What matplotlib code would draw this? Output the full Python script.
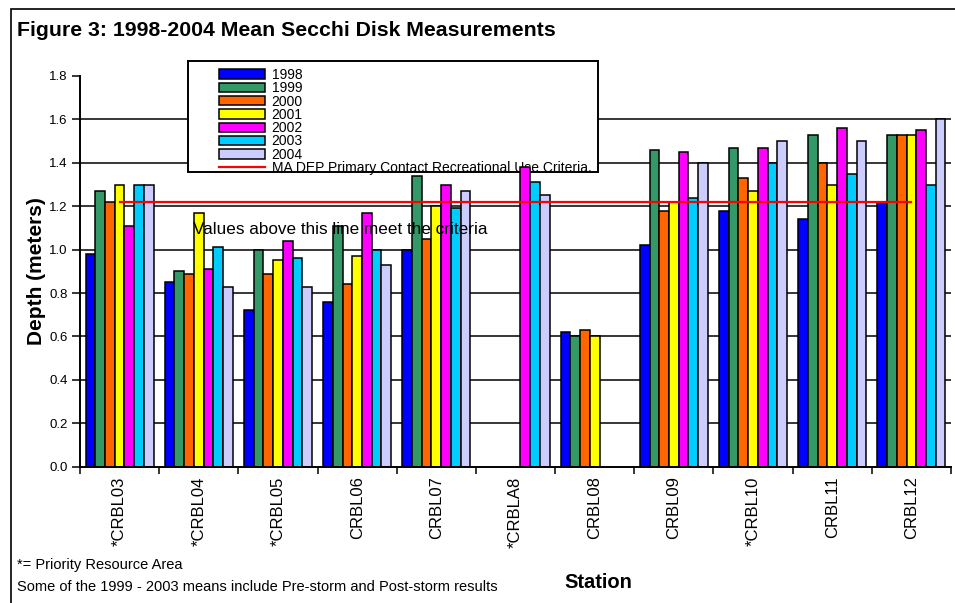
import matplotlib
matplotlib.use("Agg")
import matplotlib.pyplot as plt
import matplotlib.patches as mpatches
import numpy as np

plt.rcParams['font.family'] = ['Liberation Sans', 'DejaVu Sans']

stations = ["*CRBL03", "*CRBL04", "*CRBL05", "CRBL06", "CRBL07", "*CRBLA8",
            "CRBL08", "CRBL09", "*CRBL10", "CRBL11", "CRBL12"]
years = ["1998", "1999", "2000", "2001", "2002", "2003", "2004"]

# mean secchi depth (m), None = no data
d1998 = [0.98, 0.85, 0.72, 0.76, 1.00, None, 0.62, 1.02, 1.18, 1.14, 1.22]
d1999 = [1.27, 0.90, 1.00, 1.11, 1.34, None, 0.60, 1.46, 1.47, 1.53, 1.53]
d2000 = [1.22, 0.89, 0.89, 0.84, 1.05, None, 0.63, 1.18, 1.33, 1.40, 1.53]
d2001 = [1.30, 1.17, 0.95, 0.97, 1.20, None, 0.60, 1.22, 1.27, 1.30, 1.53]
d2002 = [1.11, 0.91, 1.04, 1.17, 1.30, 1.38, None, 1.45, 1.47, 1.56, 1.55]
d2003 = [1.30, 1.01, 0.96, 1.00, 1.19, 1.31, None, 1.24, 1.40, 1.35, 1.30]
d2004 = [1.30, 0.83, 0.83, 0.93, 1.27, 1.25, None, 1.40, 1.50, 1.50, 1.60]
criteria = [1.22] * len(stations)

series = [d1998, d1999, d2000, d2001, d2002, d2003, d2004]
colors = ["#0000FF", "#339966", "#FF6600", "#FFFF00", "#FF00FF", "#00CCFF", "#CCCCFF"]

fig = plt.figure(figsize=(9.55, 6.03), dpi=100)
ax = fig.add_axes([80/955, 1-466.7/603, 871/955, (466.7-76)/603])

x = np.arange(len(stations))
bw = 0.123
handles = []
for i, (vals, c) in enumerate(zip(series, colors)):
  v = np.array([np.nan if a is None else a for a in vals], dtype=float)
  ax.bar(x + (i - 3) * bw, v, width=bw, color=c, edgecolor="black", linewidth=1.1, zorder=2)
  handles.append(mpatches.Patch(facecolor=c, edgecolor="black", linewidth=1.1, label=years[i]))

line, = ax.plot(x, criteria, color="#FF0000", linewidth=1.6, zorder=3,
                label="MA DEP Primary Contact Recreational Use Criteria.")
handles.append(line)

ax.set_xlim(-0.5, len(stations) - 0.5)
ax.set_ylim(0, 1.8)
yt = np.arange(0, 1.81, 0.2)
ax.set_yticks(yt)
ax.set_yticklabels([f"{t:.1f}" for t in yt], fontsize=9.5)
for t in yt[1:-1]:
  ax.axhline(t, color="black", linewidth=1.1, zorder=0.5)

ax.set_xticks(np.arange(len(stations) + 1) - 0.5)
ax.set_xticklabels([])
ax.set_xticks(x, minor=True)
ax.set_xticklabels(stations, minor=True, rotation=90, fontsize=12)
ax.tick_params(axis="x", which="major", direction="out", length=5, width=1.1)
ax.tick_params(axis="x", which="minor", length=0, pad=7)
ax.tick_params(axis="y", direction="out", length=6, width=1.1, pad=3)

for s in ["top", "right"]:
  ax.spines[s].set_visible(False)
for s in ["left", "bottom"]:
  ax.spines[s].set_linewidth(1.4)

ax.set_ylabel("Depth (meters)", fontsize=15, fontweight="bold", labelpad=2)

ax.text(0.93, 1.093, "Values above this line meet the criteria", fontsize=12.3,
        va="center", ha="left", zorder=4)

# legend box
box = mpatches.Rectangle((188/955, 1-172/603), 410/955, 111/603, transform=fig.transFigure,
                         facecolor="white", edgecolor="black", linewidth=1.4, zorder=0.7,
                         clip_on=False)
ax.add_patch(box)
leg = ax.legend(handles=handles, loc="upper left", bbox_to_anchor=(212/955, 1-61/603),
                bbox_transform=fig.transFigure, frameon=False, fontsize=10,
                borderpad=0, labelspacing=-0.05, handlelength=3.3, handleheight=0.65,
                handletextpad=0.5)
leg.set_zorder(0.8)

fig.text(17/955, 1-31/603, "Figure 3: 1998-2004 Mean Secchi Disk Measurements",
         fontsize=15.3, fontweight="bold", va="center", ha="left")
fig.text(598/955, 1-582/603, "Station", fontsize=14.5, fontweight="bold", va="center", ha="center")
fig.text(17/955, 1-565/603, "*= Priority Resource Area", fontsize=10.5, va="center", ha="left")
fig.text(17/955, 1-587/603, "Some of the 1999 - 2003 means include Pre-storm and Post-storm results",
         fontsize=10.5, va="center", ha="left")

border = mpatches.Rectangle((11/955, -0.05), 1.2, 1-9/603+0.05, transform=fig.transFigure,
                            facecolor="none", edgecolor="black", linewidth=1.2)
fig.patches.append(border)

fig.savefig("out.png", dpi=100)
